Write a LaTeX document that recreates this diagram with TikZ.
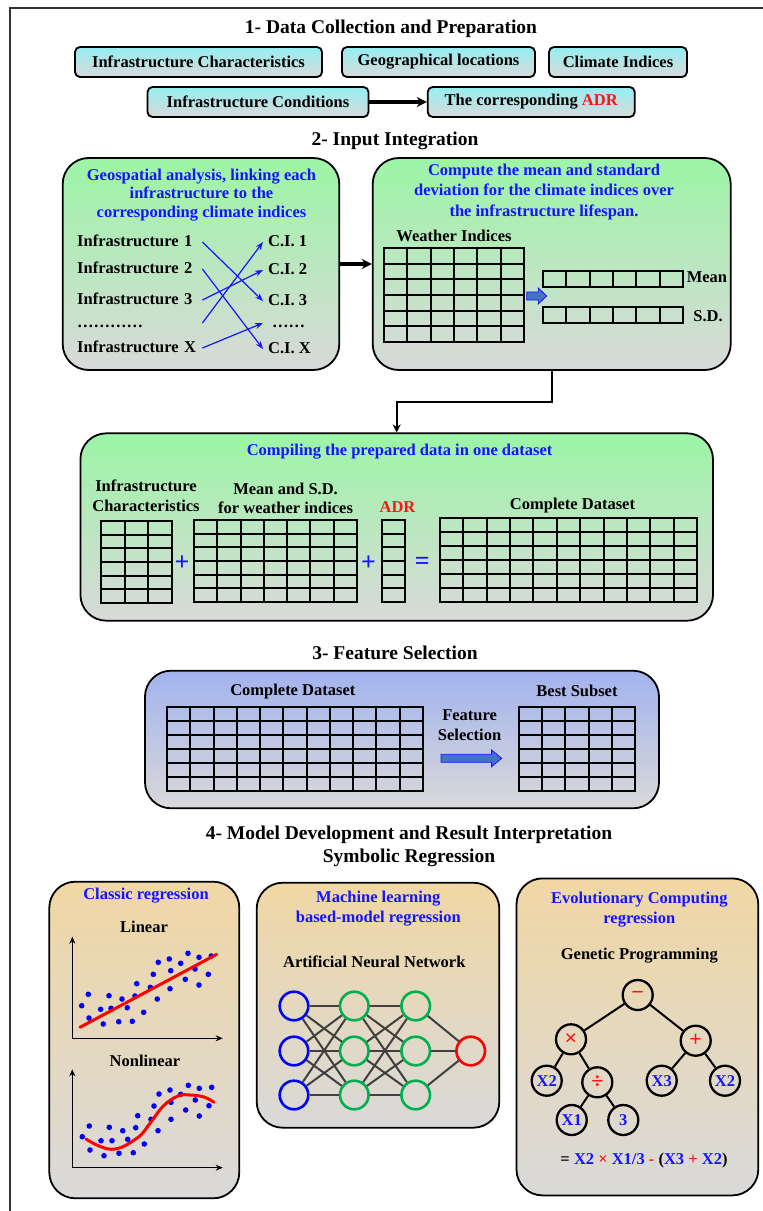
\documentclass[tikz,border=0pt]{standalone}
\usepackage{fontspec}
\setmainfont{Liberation Serif}
\usetikzlibrary{arrows.meta}
\definecolor{cyantop}{HTML}{94EEF2}
\definecolor{greentop}{HTML}{9CF5A6}
\definecolor{bluetop}{HTML}{A2B3EE}
\definecolor{tantop}{HTML}{F0D7A4}
\definecolor{boxgray}{HTML}{D9D9D9}
\definecolor{tblue}{HTML}{1414FF}
\definecolor{tred}{HTML}{FF1414}
\definecolor{nngreen}{HTML}{00B050}
\definecolor{arrowblue}{HTML}{4472C4}
\definecolor{edgegray}{HTML}{404040}
\newcommand\fsT{\fontsize{19.5}{23}\selectfont\bfseries}
\newcommand\fsN{\fontsize{16.5}{19.5}\selectfont\bfseries}
\newcommand\tabgrid[6]{%
  \draw[gridl] ({round(#1)},{round(#2)}) rectangle ({round(#3)},{round(#4)});
  \pgfmathtruncatemacro\tgc{#5-1}%
  \pgfmathtruncatemacro\tgr{#6-1}%
  \ifnum\tgc>0
    \foreach \i in {1,...,\tgc}{\draw[gridl] ({round(#1+(#3-#1)*\i/#5)},{round(#2)}) -- ({round(#1+(#3-#1)*\i/#5)},{round(#4)});}%
  \fi
  \ifnum\tgr>0
    \foreach \j in {1,...,\tgr}{\draw[gridl] ({round(#1)},{round(#2+(#4-#2)*\j/#6)}) -- ({round(#3)},{round(#2+(#4-#2)*\j/#6)});}%
  \fi
}
\begin{document}
\begin{tikzpicture}[x=1pt,y=-1pt,
  title/.style={font=\fsT, inner sep=0},
  txt/.style={font=\fsN, inner sep=0},
  btxt/.style={txt, text=tblue},
  rbox/.style={draw, line width=1.8, rounded corners=5, top color=cyantop, bottom color=boxgray, minimum height=30, inner sep=0, font=\fsN},
  bigbox/.style={draw, line width=1.8, rounded corners=26, inner sep=0},
  gbox/.style={bigbox, top color=greentop, bottom color=boxgray},
  fbox/.style={bigbox, top color=bluetop, bottom color=boxgray},
  tbox/.style={bigbox, top color=tantop, bottom color=boxgray},
  gridl/.style={line width=1.5, black},
  thickarrow/.style={line width=3.2, -{Stealth[length=10pt,width=10pt]}},
  conn/.style={line width=2, -{Stealth[length=8pt,width=8pt]}},
  blarrow/.style={line width=1.2, tblue, -{Stealth[length=8pt,width=6pt]}},
  itxt/.style={txt, text width=125, align=left, text height=11.5, text depth=3},
  ctxt/.style={txt, inner xsep=5, text height=11.5, text depth=3},
  axis/.style={line width=1.3, {Stealth[length=7pt,width=6pt]}-{Stealth[length=7pt,width=6pt]}},
  dot/.style={fill=blue, draw=none},
  fit/.style={line width=3, red, line cap=round},
  neuron/.style={circle, draw, line width=2.6, minimum size=28.6, inner sep=0},
  nnedge/.style={line width=2, edgegray},
  tnode/.style={circle, draw, line width=2.3, minimum size=30, inner sep=0, font=\fsN, text=tblue},
  opnode/.style={tnode, text=tred, font=\fontsize{22}{22}\selectfont\bfseries},
  tedge/.style={line width=2}
]
\useasboundingbox (0,0) rectangle (763,1211);
\draw[line width=1.4, black!80] (10,1211) -- (10,8) -- (763,8);

% ---------- Section 1
\node[title] (t1) at (391,29) {1- Data Collection and Preparation};
\node[rbox, minimum width=247] (ic) at (198.5,62) {Infrastructure Characteristics};
\node[rbox, minimum width=193] (gl) at (438.5,62) {Geographical locations};
\node[rbox, minimum width=138] (ci) at (618,62) {Climate Indices};
\node[rbox, minimum width=221] (icond) at (258,102) {Infrastructure Conditions};
\node[rbox, minimum width=207] (adr) at (531.2,102) {The corresponding \textcolor{tred}{ADR}};
\draw[thickarrow] (icond) -- (adr);

% ---------- Section 2
\node[title] (t2) at (395,141) {2- Input Integration};
\node[gbox, minimum width=276.6, minimum height=212] (geo) at (201,264) {};
\node[gbox, minimum width=358, minimum height=212] (comp) at (551.7,264) {};
\draw[thickarrow] (geo) -- (comp);

\node[btxt, align=center, font=\fontsize{16.5}{18.3}\selectfont\bfseries] (geotxt) at (201.5,195) {Geospatial analysis, linking each\\infrastructure to the\\corresponding climate indices};
\node[itxt, anchor=west] (i1) at (77,242) {Infrastructure 1};
\node[itxt, anchor=west] (i2) at (77,269) {Infrastructure 2};
\node[itxt, anchor=west] (i3) at (77,300) {Infrastructure 3};
\node[itxt, anchor=west] (idots) at (77,323) {…………};
\node[itxt, anchor=west] (ix) at (77,348) {Infrastructure X};
\node[ctxt, anchor=west] (c1) at (263,242) {C.I. 1};
\node[ctxt, anchor=west] (c2) at (263,270) {C.I. 2};
\node[ctxt, anchor=west] (c3) at (263,301) {C.I. 3};
\node[ctxt, anchor=west] (cdots) at (263,323) {\hspace*{4pt}……};
\node[ctxt, anchor=west] (cx) at (263,349) {C.I. X};
\draw[blarrow] (i1.east) -- (c3.west);
\draw[blarrow] (i2.east) -- (cx.west);
\draw[blarrow] (i3.east) -- (c2.west);
\draw[blarrow] (idots.east) -- (c1.west);
\draw[blarrow] (ix.east) -- (cdots.west);

\node[btxt, align=center, font=\fontsize{16.5}{20.5}\selectfont\bfseries] (comptxt) at (544,192) {Compute the mean and standard\\deviation for the climate indices over\\the infrastructure lifespan.};
\node[txt] (wi) at (454,236) {Weather Indices};
\tabgrid{384}{248}{524}{342}{6}{6}
\draw[fill=arrowblue, draw=tblue, line width=0.8] (526.7,292) -- (538.3,292) -- (538.3,288) -- (546.7,296) -- (538.3,304) -- (538.3,300) -- (526.7,300) -- cycle;
\tabgrid{543}{271}{683}{287}{6}{1}
\tabgrid{543}{307}{683}{323}{6}{1}
\node[txt] (mean) at (707,277) {Mean};
\node[txt] (sd) at (708,316) {S.D.};

% ---------- Compiling
\node[gbox, minimum width=632.6, minimum height=187.4] (cb) at (396.7,527) {};
\draw[conn] (comp.south) -- ++(0,31) -| (cb.north);
\node[btxt] (cbt) at (399.6,452) {Compiling the prepared data in one dataset};
\node[txt, align=center, font=\fontsize{16.5}{20}\selectfont\bfseries] (lic) at (146,496) {Infrastructure\\Characteristics};
\node[txt, align=center, font=\fontsize{16.5}{19}\selectfont\bfseries] (lms) at (285.6,498) {Mean and S.D.\\for weather indices};
\node[txt, text=tred] (ladr) at (397.5,507) {ADR};
\node[txt] (lcd) at (572.5,506) {Complete Dataset};
\tabgrid{101}{521}{172}{603}{3}{6}
\node[txt, text=tblue, font=\fontsize{26}{26}\selectfont\bfseries] (p1) at (182,563) {+};
\tabgrid{194}{520}{357}{602}{7}{6}
\node[txt, text=tblue, font=\fontsize{26}{26}\selectfont\bfseries] (p2) at (368.5,563) {+};
\tabgrid{382}{520}{405}{602}{1}{6}
\node[txt, text=tblue, font=\fontsize{26}{26}\selectfont\bfseries] (eqs) at (422.4,563) {=};
\tabgrid{440}{518}{697}{602}{11}{6}

% ---------- Section 3
\node[title] (t3) at (395,653) {3- Feature Selection};
\node[fbox, minimum width=514, minimum height=137.6] (fs) at (402,739.5) {};
\node[txt] (fcd) at (292.8,692) {Complete Dataset};
\tabgrid{167}{707}{423}{791}{11}{6}
\node[txt, align=center, font=\fontsize{16.5}{20}\selectfont\bfseries] (fsl) at (469.6,725) {Feature\\Selection};
\draw[fill=arrowblue, draw=tblue, line width=0.8] (441,754.3) -- (491.6,754.3) -- (491.6,750) -- (501.7,758.3) -- (491.6,766.7) -- (491.6,762.3) -- (441,762.3) -- cycle;
\node[txt] (fbs) at (577,691) {Best Subset};
\tabgrid{519}{707}{635}{791}{5}{6}

% ---------- Section 4
\node[title, align=center, font=\fontsize{19.5}{23.3}\selectfont\bfseries] (t4) at (409,846.7) {4- Model Development and Result Interpretation\\Symbolic Regression};

% Classic regression
\node[tbox, minimum width=190, minimum height=316.6] (crb) at (144.3,1040) {};
\node[btxt] (crt) at (146,896) {Classic regression};
\node[txt] (lin) at (144,927.3) {Linear};
\draw[axis] (72.3,936.7) -- (72.3,1038.3) -- (222.7,1038.3);
\foreach \p in {(81.7,1005.7),(88.3,994.3),(89,1018),(100.7,1009.3),(103.3,1024),(109,995.7),(111,1008.3),(118.7,1021.7),(122,999),(127.3,1007.7),(132.3,1021.3),(135,996),(136.7,983.7),(143.7,1012.3),(150.3,987.3),(153.3,974.3),(157.3,999),(158.3,962.3),(170,988.7),(169.3,959),(170.7,970.7),(180.7,963.3),(185.3,979.3),(188,953.3),(195,969),(199,957.3),(199,985),(208.3,974.3),(211.3,956)}
  {\fill[dot] \p circle[radius=2.8];}
\draw[fit] (80,1027.3) -- (216.7,954.3);
\node[txt] (nlin) at (145,1061) {Nonlinear};
\draw[axis] (72.3,1069.3) -- (72.3,1167.7) -- (222.7,1167.7);
\foreach \p in {(82.3,1136.7),(89.3,1126),(90,1150),(101,1140.7),(104,1155.7),(109.3,1127.3),(112,1140.7),(119,1153.3),(122.7,1130.7),(127.7,1139.3),(133.3,1152.7),(135.7,1127.7),(137.7,1115.7),(144.3,1144),(151,1119.3),(154,1106),(158,1130.7),(159,1094),(171,1119.3),(170,1090),(171,1102.3),(180.7,1094.3),(185.7,1110),(188.3,1085.3),(195.3,1100),(199.3,1088.3),(199.3,1116),(209,1105.7),(211.7,1087.3)}
  {\fill[dot] \p circle[radius=2.8];}
\draw[fit] plot[smooth, tension=0.7] coordinates {(86,1139) (111.7,1149.3) (136.7,1138.3) (150,1123.3) (163.3,1106) (178,1096) (190,1095) (204,1097) (214,1102.3)};

% Machine learning
\node[tbox, minimum width=242.6, minimum height=245] (mlb) at (378,1005.2) {};
\node[btxt, align=center, font=\fontsize{16.5}{20}\selectfont\bfseries] (mlt) at (378.3,908.3) {Machine learning\\based-model regression};
\node[txt] (ann) at (374.3,961.7) {Artificial Neural Network};
\foreach \r/\yy in {1/1006,2/1051,3/1095}{
  \node[neuron, draw=blue] (a\r) at (294,\yy) {};
  \node[neuron, draw=nngreen] (b\r) at (354.3,\yy) {};
  \node[neuron, draw=nngreen] (c\r) at (415.7,\yy) {};
}
\node[neuron, draw=red] (out) at (470.7,1051) {};
\foreach \s in {1,2,3}{\foreach \t in {1,2,3}{
  \draw[nnedge] (a\s) -- (b\t);
  \draw[nnedge] (b\s) -- (c\t);}
  \draw[nnedge] (c\s) -- (out);}

% Evolutionary computing
\node[tbox, minimum width=241.8, minimum height=317] (evb) at (637.4,1036.9) {};
\node[btxt, align=center, font=\fontsize{16.5}{20}\selectfont\bfseries] (evt) at (639.3,910) {Evolutionary Computing\\regression};
\node[txt] (gp) at (639.3,956) {Genetic Programming};
\node[opnode] (root) at (637.7,995) {−};
\node[opnode] (mul) at (571,1039.3) {×};
\node[opnode] (plus) at (695.7,1040.7) {+};
\node[tnode] (x2a) at (546.7,1080.7) {X2};
\node[opnode] (dv) at (597.3,1082.3) {÷};
\node[tnode] (x3) at (661.7,1080.7) {X3};
\node[tnode] (x2b) at (725,1080.7) {X2};
\node[tnode] (x1) at (571.7,1120) {X1};
\node[tnode] (n3) at (623.3,1120) {3};
\draw[tedge] (root) -- (mul);
\draw[tedge] (root) -- (plus);
\draw[tedge] (mul) -- (x2a);
\draw[tedge] (mul) -- (dv);
\draw[tedge] (plus) -- (x3);
\draw[tedge] (plus) -- (x2b);
\draw[tedge] (dv) -- (x1);
\draw[tedge] (dv) -- (n3);
\node[txt] (eq) at (644,1161) {= \textcolor{tblue}{X2} \textcolor{tred}{×} \textcolor{tblue}{X1/3} \textcolor{tred}{-} (\textcolor{tblue}{X3} \textcolor{tred}{+} \textcolor{tblue}{X2})};
\end{tikzpicture}
\end{document}
